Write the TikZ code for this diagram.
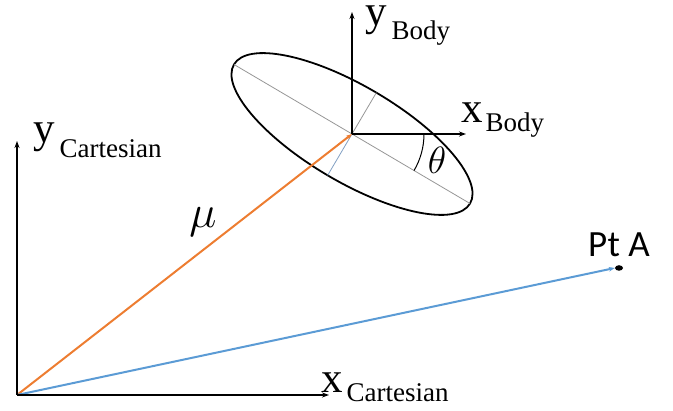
\RequirePackage{fix-cm}
\documentclass[tikz,border=0pt]{standalone}
\usepackage{fontspec}
\setmainfont{Liberation Serif}
\newfontfamily\ptfont{Carlito}
\usetikzlibrary{arrows.meta,shapes.geometric}
\definecolor{vecorange}{RGB}{237,125,49}
\definecolor{vecblue}{RGB}{91,155,213}
\definecolor{axisgray}{RGB}{150,150,150}
\definecolor{minorblue}{RGB}{130,160,195}
\tikzset{
  axis/.style={line width=2pt, -{Stealth[length=7pt,width=5pt]}},
  vec/.style={line width=2pt, -{Stealth[length=6pt,width=4.5pt]}},
  lbl/.style={inner sep=0pt, anchor=base west, text height=18pt, text depth=14pt, font=\fontsize{43}{43}\selectfont},
  thinline/.style={line width=0.8pt, axisgray}
}
\newcommand{\subtxt}[2]{\raisebox{-#1}{\fontsize{27}{27}\selectfont #2}}
\begin{document}
\begin{tikzpicture}[x=1pt,y=-1pt]
\useasboundingbox (0,0) rectangle (673,411);
% key points
\coordinate (O) at (17,395);
\coordinate (C) at (352,134);
\coordinate (yct) at (17,141);
\coordinate (xct) at (329,395);
\coordinate (ybt) at (352,12);
\coordinate (xbt) at (466,134);
\path (C) ++(149.5:137pt) coordinate (M1);
\path (C) ++(-30.5:137pt) coordinate (M2);
\path (C) ++(59.5:48pt) coordinate (N1);
\path (C) ++(-120.5:48pt) coordinate (N2);
% ellipse and its axes
\draw[line width=1.8pt, rotate around={-30.5:(C)}] (C) ellipse [x radius=137pt, y radius=48pt];
\draw[thinline] (M1) -- (M2);
\draw[thinline] (C) -- (N1);
\draw[line width=0.8pt, minorblue] (C) -- (N2);
% theta arc
\draw[line width=1pt] (C) ++(72pt,0pt) arc[start angle=0, end angle=-30.5, radius=72pt];
\node[inner sep=0pt, font=\fontsize{38}{38}\selectfont] (th) at (437,160) {$\theta$};
% vectors
\node[fill=black, ellipse, inner sep=0pt, minimum width=8pt, minimum height=5.5pt] (A) at (619,268) {};
\draw[vec, vecorange] (O) -- (C);
\draw[vec, vecblue] (O) -- (A.west);
% axes
\draw[axis] (O) -- (yct);
\draw[axis] (O) -- (xct);
\draw[axis] (C) -- (ybt);
\draw[axis] (C) -- (xbt);
% labels
\node[lbl] (ycl) at (33,143) {y\kern5pt\subtxt{15pt}{Cartesian}};
\node[lbl] (xcl) at (321,393) {x\kern4pt\subtxt{8.7pt}{Cartesian}};
\node[lbl] (ybl) at (365,26) {y\kern5pt\subtxt{14pt}{Body}};
\node[lbl] (xbl) at (461,123) {x\kern3pt\subtxt{8.7pt}{Body}};
\node[inner sep=0pt, font=\fontsize{46}{46}\selectfont] (mu) at (203,222) {$\mu$};
\node[inner sep=0pt, anchor=base west, font=\ptfont\fontsize{37}{37}\selectfont] (pta) at (588,256.7) {Pt A};
\end{tikzpicture}
\end{document}
